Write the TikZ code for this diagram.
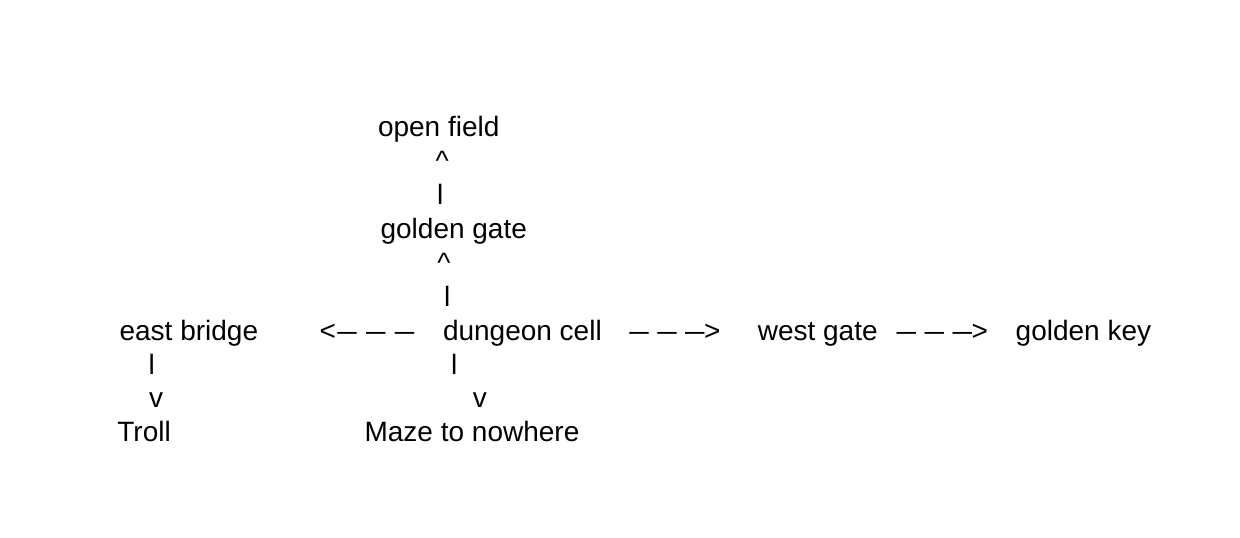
\documentclass[tikz,border=0pt]{standalone}
\usepackage{fontspec}
\setmainfont{Liberation Sans}
\newcommand\dd{\scalebox{1.25}[1]{–}}
\newcommand\darrowL{<\kern1.5pt\dd\kern9.3pt\dd\kern9.3pt\dd}
\newcommand\darrowR{\dd\kern8.5pt\dd\kern8.5pt\dd\kern-0.5pt>}
\tikzset{
  lbl/.style={anchor=base west, inner sep=0pt, outer sep=0pt,
    font=\fontsize{28}{34}\selectfont, text=black}
}
\begin{document}
\begin{tikzpicture}[x=1pt,y=-1pt]
\useasboundingbox (0,0) rectangle (1240,538);
% baselines: 136.7 + 33.9 k
\node[lbl] (of)  at (378,136.7) {open field};
\node[lbl] (c1)  at (435.5,170.6) {\^{}};
\node[lbl] (b1)  at (437.2,204.5) {l};
\node[lbl] (gg)  at (380.6,238.4) {golden gate};
\node[lbl] (c2)  at (437.3,272.3) {\^{}};
\node[lbl] (b2)  at (444.2,306.2) {l};
\node[lbl] (eb)  at (119.6,340.1) {east bridge};
\node[lbl] (al)  at (319.5,340.1) {\darrowL};
\node[lbl] (dc)  at (443,340.1) {dungeon cell};
\node[lbl] (ar1) at (629.3,340.1) {\darrowR};
\node[lbl] (wg)  at (757.8,340.1) {west gate};
\node[lbl] (ar2) at (896.7,340.1) {\darrowR};
\node[lbl] (gk)  at (1015.7,340.1) {golden key};
\node[lbl] (b3)  at (148.5,374.0) {l};
\node[lbl] (b4)  at (451.2,374.0) {l};
\node[lbl] (v1)  at (149,407.9) {v};
\node[lbl] (v2)  at (472.8,407.9) {v};
\node[lbl] (tr)  at (117.4,441.8) {Troll};
\node[lbl] (mz)  at (364.6,441.8) {Maze to nowhere};
\end{tikzpicture}
\end{document}
